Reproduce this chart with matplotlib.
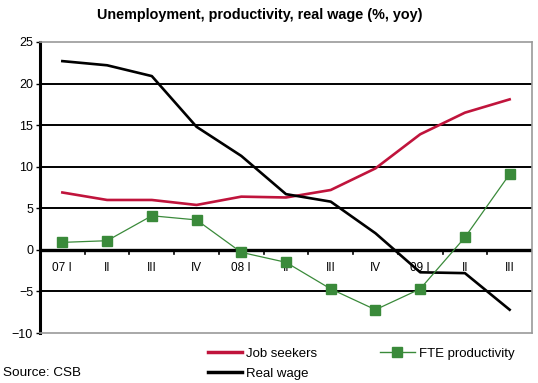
import numpy as np
import matplotlib.pyplot as plt
from matplotlib.lines import Line2D

plt.rcParams['font.family'] = ['Liberation Sans', 'DejaVu Sans']

quarters = ['07 I', 'II', 'III', 'IV', '08 I', 'II', 'III', 'IV', '09 I', 'II', 'III']
job_seekers = [6.9, 6.0, 6.0, 5.4, 6.4, 6.3, 7.2, 9.8, 13.9, 16.5, 18.1]
fte_productivity = [0.9, 1.1, 4.1, 3.6, -0.3, -1.5, -4.7, -7.2, -4.7, 1.5, 9.1]
real_wage = [22.7, 22.2, 20.9, 14.8, 11.3, 6.7, 5.8, 2.0, -2.7, -2.8, -7.2]

red = '#c0143c'
green = '#3a8a3a'

fig = plt.figure(figsize=(5.38, 3.83), dpi=100)
ax = fig.add_axes([40 / 538, 50 / 383, 492 / 538, 291 / 383])

x = np.arange(len(quarters))
ax.plot(x, job_seekers, color=red, lw=1.9, zorder=3)
ax.plot(x, real_wage, color='black', lw=1.9, zorder=3)
ax.plot(x, fte_productivity, color=green, lw=0.9, marker='s', ms=6.5, mec=green, mfc=green, zorder=4)

ax.set_xlim(-0.5, len(quarters) - 0.5)
ax.set_ylim(-10, 25)
ax.set_yticks(np.arange(-10, 26, 5))
for v in [-5, 5, 10, 15, 20]:
    ax.axhline(v, color='black', lw=1.4, zorder=1)
ax.axhline(0, color='black', lw=2.4, zorder=2)

for s in ['top', 'right', 'bottom']:
    ax.spines[s].set_color('#999999')
    ax.spines[s].set_linewidth(1.2)
ax.spines['left'].set_color('black')
ax.spines['left'].set_linewidth(2.2)
ax.tick_params(axis='y', length=3, width=1, labelsize=9, pad=2)
ax.set_xticks([])

# category labels and ticks on the zero line
for i, lab in enumerate(quarters):
    ax.text(i, -1.5, lab, ha='center', va='top', fontsize=8.5)
for b in np.arange(0.5, len(quarters) - 0.5, 1):
    ax.plot([b, b], [0, -0.45], color='black', lw=1.2, zorder=2)

fig.text(260 / 538, 1 - 15 / 383, 'Unemployment, productivity, real wage (%, yoy)',
         ha='center', va='center', fontsize=10.4, fontweight='bold')
fig.text(3 / 538, 1 - 373 / 383, 'Source: CSB', ha='left', va='center', fontsize=9.7)

handles = [Line2D([], [], color=red, lw=2.5),
           Line2D([], [], color='black', lw=2.5),
           Line2D([], [], color=green, lw=1, marker='s', ms=6.5)]
labels = ['Job seekers', 'Real wage', 'FTE productivity']
fig.legend(handles, labels, ncol=2, loc='upper left', bbox_to_anchor=(201 / 538, 1 - 341 / 383),
           frameon=False, fontsize=9.5, handlelength=2.6, handletextpad=0.3,
           columnspacing=4.8, labelspacing=0.6, borderpad=0)

fig.savefig('out.png', dpi=100)
